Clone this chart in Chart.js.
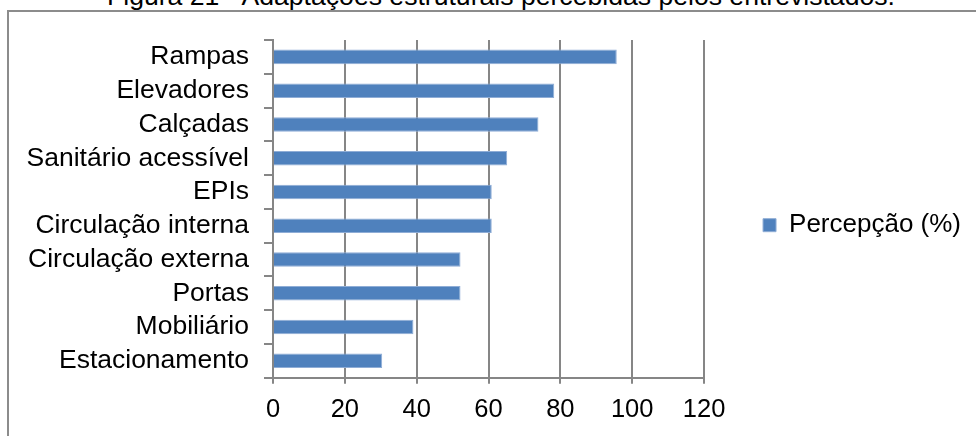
<!DOCTYPE html>
<html>
<head>
<meta charset="utf-8">
<script src="https://cdn.jsdelivr.net/npm/chart.js@4"></script>
<style>
  html, body { margin: 0; padding: 0; background: #fff; overflow: hidden; }
  body { width: 976px; height: 436px; position: relative; font-family: 'Liberation Sans', Arial, sans-serif; }
  .title { position: absolute; left: 107px; top: -17px; font-size: 26.6px; line-height: 26px; white-space: nowrap; color: #000; }
  .frame { position: absolute; left: 7px; top: 10px; width: 1000px; height: 500px; border: 2px solid #8c8c8c; }
  #chart { position: absolute; left: 0; top: 0; }
</style>
</head>
<body>
<div class="title">Figura 21 - Adaptações estruturais percebidas pelos entrevistados.</div>
<div class="frame"></div>
<canvas id="chart" width="976" height="436"></canvas>
<script>
const categories = ['Rampas', 'Elevadores', 'Calçadas', 'Sanitário acessível', 'EPIs',
    'Circulação interna', 'Circulação externa', 'Portas', 'Mobiliário', 'Estacionamento'];
const percepcao = [95.7, 78.3, 73.9, 65.2, 60.9, 60.9, 52.2, 52.2, 39.1, 30.4];
const xTicks = [0, 20, 40, 60, 80, 100, 120];
const seriesLabel = 'Percepção (%)';

document.addEventListener('DOMContentLoaded', function() {
    Chart.defaults.font.family = "'Liberation Sans', Arial, sans-serif";
    Chart.defaults.font.size = 26;
    Chart.defaults.color = '#000';

    const gridColor = '#868686';
    const ctx = document.getElementById('chart').getContext('2d');
    new Chart(ctx, {
        type: 'bar',
        data: {
            labels: categories,
            datasets: [{
                label: seriesLabel,
                data: percepcao,
                backgroundColor: '#4f81bd',
                borderColor: '#8fadd6',
                borderWidth: 1,
                barPercentage: 0.43,
                categoryPercentage: 1
            }]
        },
        options: {
            indexAxis: 'y',
            responsive: false,
            animation: false,
            devicePixelRatio: 1,
            layout: {
                padding: { top: 40, bottom: 0, left: 0, right: 5 }
            },
            plugins: {
                legend: {
                    position: 'right',
                    align: 'start',
                    maxWidth: 400,
                    // empty title only pushes the single item down to mid-height
                    title: { display: true, text: '', padding: { top: 82, bottom: 0 } },
                    labels: {
                        boxWidth: 13,
                        boxHeight: 13,
                        padding: 59
                    }
                },
                tooltip: { enabled: false }
            },
            scales: {
                y: {
                    grid: {
                        drawOnChartArea: false,
                        color: gridColor,
                        lineWidth: 2,
                        tickLength: 9
                    },
                    border: { color: gridColor, width: 2 },
                    ticks: { padding: 15, autoSkip: false, font: { size: 26.5 } },
                    afterFit: function(scale) { scale.width = 273; }
                },
                x: {
                    min: xTicks[0],
                    max: xTicks[xTicks.length - 1],
                    grid: {
                        color: gridColor,
                        lineWidth: 2,
                        tickLength: 6
                    },
                    border: { color: gridColor, width: 2 },
                    ticks: {
                        stepSize: xTicks[1] - xTicks[0],
                        padding: 11,
                        font: { size: 25.5 }
                    },
                    afterFit: function(scale) { scale.height = 58.3; }
                }
            }
        }
    });
});
</script>
</body>
</html>
